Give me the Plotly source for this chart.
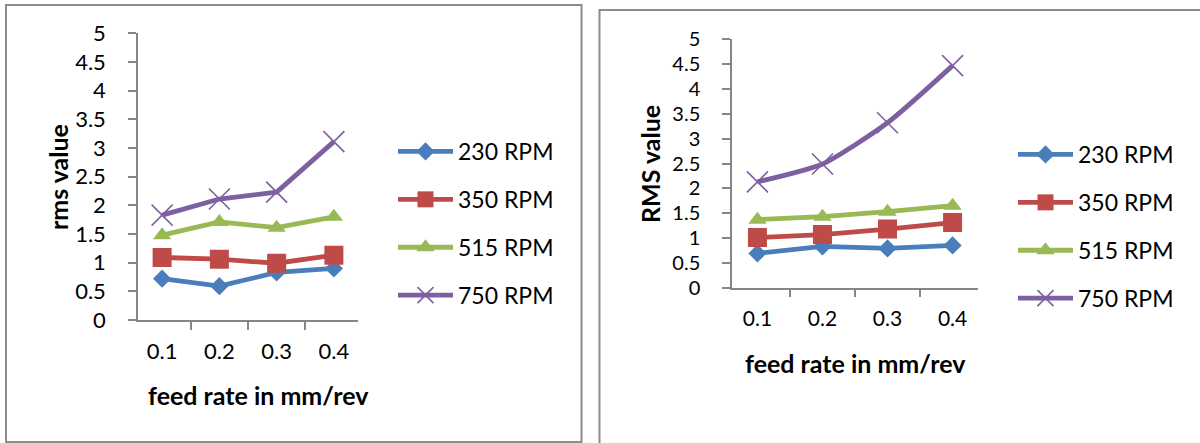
import plotly.graph_objects as go

# feed rates (x categories) and spindle speeds (series)
feed_labels = ["0.1", "0.2", "0.3", "0.4"]
speed_names = ["230 RPM", "350 RPM", "515 RPM", "750 RPM"]

# left chart: rms value
rms_230 = [0.72, 0.59, 0.83, 0.90]
rms_350 = [1.09, 1.06, 0.99, 1.13]
rms_515 = [1.48, 1.71, 1.61, 1.80]
rms_750 = [1.83, 2.11, 2.23, 3.11]

# right chart: RMS value
RMS_230 = [0.69, 0.83, 0.79, 0.85]
RMS_350 = [1.01, 1.07, 1.18, 1.31]
RMS_515 = [1.37, 1.43, 1.53, 1.65]
RMS_750 = [2.13, 2.49, 3.32, 4.47]

y_ticks = [0, 0.5, 1, 1.5, 2, 2.5, 3, 3.5, 4, 4.5, 5]

colors = ["#4A7EBB", "#BE4B48", "#98B954", "#7D60A0"]
symbols = ["diamond", "square", "triangle-up", "x-thin-open"]
sizes = [14, 19, 16, 21]

W, H = 1200, 443
FONT = "Lato, 'Open Sans', sans-serif"

fig = go.Figure()


def add_series(values, xa, ya, legend, smooth_last):
    for i, (name, vals) in enumerate(zip(speed_names, values)):
        marker = dict(symbol=symbols[i], size=sizes[i], color=colors[i])
        if symbols[i].startswith("x"):
            marker["line"] = dict(color=colors[i], width=1.6)
        fig.add_trace(go.Scatter(
            x=feed_labels, y=vals, name=name,
            mode="lines+markers",
            line=dict(color=colors[i], width=4.8,
                      shape="spline" if (smooth_last and i == 3) else "linear",
                      smoothing=0.6),
            marker=marker,
            xaxis=xa, yaxis=ya, legend=legend, legendgroup=legend + name,
        ))


add_series([rms_230, rms_350, rms_515, rms_750], "x", "y", "legend", False)
add_series([RMS_230, RMS_350, RMS_515, RMS_750], "x2", "y2", "legend2", True)


def px_x(v):
    return v / W


def px_y(v):
    return 1 - v / H


def axis_style(font_size):
    return dict(
        showgrid=False, zeroline=False, showline=True, automargin=False,
        linecolor="#868686", linewidth=1.5, fixedrange=True,
        ticks="outside", ticklen=8, tickcolor="#868686", tickwidth=1.5,
        tickfont=dict(family=FONT, size=font_size, color="#000000"),
    )


def x_style(font_size):
    return dict(axis_style(font_size), type="category", tickson="boundaries",
                ticklabelstandoff=11)


def y_style(font_size):
    return dict(axis_style(font_size), range=[0, 5], tickvals=y_ticks,
                ticklabelstandoff=18)


legend_common = dict(
    font=dict(family=FONT, size=23, color="#000000"),
    bgcolor="rgba(0,0,0,0)", borderwidth=0,
    itemwidth=55, tracegroupgap=15, traceorder="grouped",
    xanchor="left", yanchor="top",
)


def title_note(text, x, y, angle=0):
    return dict(text="<b>%s</b>" % text, xref="paper", yref="paper",
                x=px_x(x), y=px_y(y), xanchor="center", yanchor="middle",
                showarrow=False, textangle=angle,
                font=dict(family=FONT, size=25, color="#000000"))


fig.update_layout(
    width=W, height=H,
    margin=dict(l=0, r=0, t=0, b=0, autoexpand=False),
    paper_bgcolor="white", plot_bgcolor="white",
    showlegend=True,
    xaxis=dict(x_style(22), domain=[px_x(138), px_x(358)], anchor="y"),
    yaxis=dict(y_style(22), domain=[px_y(320), px_y(33.3)], anchor="x"),
    xaxis2=dict(x_style(21), domain=[px_x(732), px_x(978)], anchor="y2"),
    yaxis2=dict(y_style(20), domain=[px_y(287.7), px_y(39.3)], anchor="x2"),
    legend=dict(legend_common, x=px_x(393), y=px_y(130)),
    legend2=dict(legend_common, x=px_x(1013), y=px_y(133)),
    shapes=[
        dict(type="rect", xref="paper", yref="paper",
             x0=px_x(6), x1=px_x(581.5), y0=px_y(442), y1=px_y(5),
             line=dict(color="#8C8C8C", width=2), layer="below"),
        dict(type="rect", xref="paper", yref="paper",
             x0=px_x(599.5), x1=px_x(1210), y0=px_y(460), y1=px_y(10),
             line=dict(color="#8C8C8C", width=2), layer="below"),
    ],
    annotations=[
        title_note("feed rate in mm/rev", 258, 395),
        title_note("rms value", 58, 177, -90),
        title_note("feed rate in mm/rev", 855, 363),
        title_note("RMS value", 650, 164, -90),
    ],
)

fig.write_html("out.html", config={"displayModeBar": False})
